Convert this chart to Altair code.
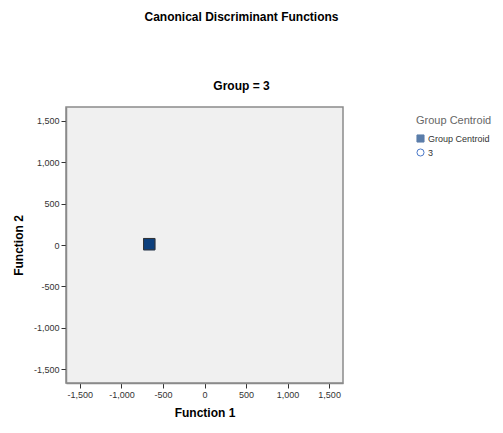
import altair as alt
import pandas as pd

# data
categories = ["Group Centroid"]
func1 = [-665]
func2 = [10]
legend_domain = ["Group Centroid", "3"]
ticks = [-1500, -1000, -500, 0, 500, 1000, 1500]

df = pd.DataFrame({"Function 1": func1, "Function 2": func2, "Group Centroid": categories})

FONT = "Liberation Sans"
LABEL_EXPR = "datum.value < 0 ? '-' + format(-datum.value, ',.0f') : format(datum.value, ',.0f')"
x = alt.X("Function 1:Q", scale=alt.Scale(domain=[-1667, 1667], nice=False, zero=False),
          axis=alt.Axis(values=ticks, labelExpr=LABEL_EXPR, title="Function 1", grid=False))
y = alt.Y("Function 2:Q", scale=alt.Scale(domain=[-1667, 1667], nice=False, zero=False),
          axis=alt.Axis(values=ticks, labelExpr=LABEL_EXPR, title="Function 2", grid=False))

leg = alt.Legend(title="Group Centroid", orient="none", legendX=350, legendY=8)
legend_layer = alt.Chart(df).mark_point(filled=False, size=130, strokeWidth=1, opacity=1).encode(
    x=x, y=y,
    shape=alt.Shape("Group Centroid:N", scale=alt.Scale(domain=legend_domain, range=["square", "circle"]), legend=leg),
    fill=alt.Fill("Group Centroid:N", scale=alt.Scale(domain=legend_domain, range=["#5a7daa", "#ffffff"]), legend=leg),
    stroke=alt.Stroke("Group Centroid:N", scale=alt.Scale(domain=legend_domain, range=["#5a7daa", "#4a78c8"]), legend=leg),
)

point_layer = alt.Chart(df).mark_point(shape="square", filled=True, size=130, opacity=1,
                                       color="#0c3f7c", stroke="#333333", strokeWidth=1).encode(x=x, y=y)

chart = alt.layer(legend_layer, point_layer).properties(
    width=277, height=276,
    autosize=alt.AutoSizeParams(type="none"),
    padding={"left": 58, "top": 99, "right": 152, "bottom": 42},
    title=alt.TitleParams(
        text="Canonical Discriminant Functions",
        subtitle="Group = 3",
        font=FONT, fontSize=12, fontWeight="bold", color="#000000",
        subtitleFont=FONT, subtitleFontSize=12, subtitleFontWeight="bold", subtitleColor="#000000",
        subtitlePadding=57, offset=14, anchor="middle", frame="group", dx=37,
    ),
).configure_view(
    fill="#f0f0f0", stroke="#8a8a8a", strokeWidth=1.5
).configure_axis(
    labelFont=FONT, labelFontSize=9, labelColor="#333333",
    titleFont=FONT, titleFontSize=12, titleFontWeight="bold", titleColor="#000000",
    domainColor="#8a8a8a", domainWidth=1.5, tickColor="#333333", tickSize=5,
    labelPadding=2,
).configure_axisY(titlePadding=8).configure_axisX(titlePadding=8).configure_legend(
    titleFont=FONT, titleFontSize=11, titleFontWeight="normal", titleColor="#666666",
    labelFont=FONT, labelFontSize=9, labelColor="#333333", labelOffset=3,
    symbolSize=50, rowPadding=1, titlePadding=8, symbolStrokeWidth=1,
)

chart.save("out.html", embed_options={"renderer": "svg", "actions": False})
